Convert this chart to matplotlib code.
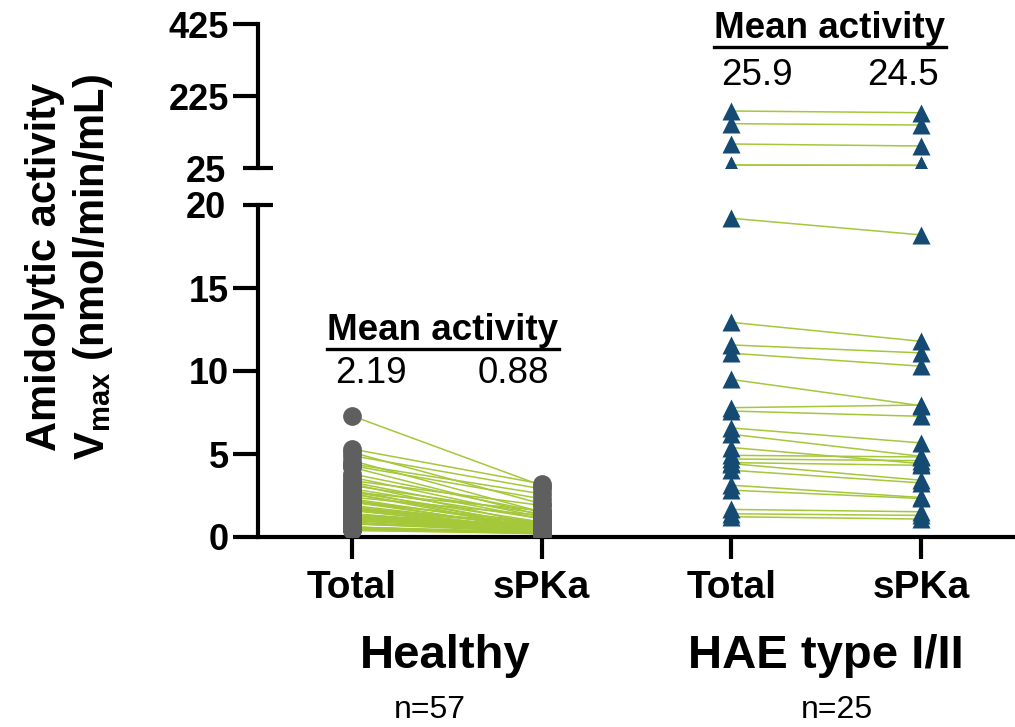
import matplotlib
matplotlib.use('Agg')
import matplotlib.pyplot as plt
from matplotlib.lines import Line2D

plt.rcParams['font.family'] = ['Liberation Sans', 'DejaVu Sans']
plt.rcParams['font.weight'] = 'bold'
plt.rcParams['mathtext.fontset'] = 'custom'
plt.rcParams['mathtext.rm'] = 'Liberation Sans'
plt.rcParams['mathtext.bf'] = 'Liberation Sans:bold'
plt.rcParams['mathtext.default'] = 'bf'

# labels
tick_labels = ['Total', 'sPKa', 'Total', 'sPKa']
groups = ['Healthy', 'HAE type I/II']
group_n = ['n=57', 'n=25']
mean_healthy = ['2.19', '0.88']
mean_hae = ['25.9', '24.5']

# paired values (nmol/min/mL)
healthy_total = [7.3, 5.3, 5.1, 4.9, 4.6, 4.4, 4.2, 4.3, 3.8, 3.6,
                 3.4, 3.3, 3.1, 3.2, 2.9, 2.8, 2.7, 2.6, 2.7, 2.6,
                 2.4, 2.3, 2.2, 2.1, 2.1, 2.2, 1.9, 1.8, 1.8, 1.7,
                 1.6, 1.6, 1.7, 1.6, 1.4, 1.4, 1.3, 1.3, 1.2, 1.2,
                 1.1, 1.1, 1.0, 1.0, 1.0, 1.2, 0.8, 0.8, 0.9, 0.8,
                 0.6, 0.6, 0.5, 0.5, 0.4, 0.4, 0.6]
healthy_spka = [3.1, 3.2, 2.0, 2.9, 1.5, 2.6, 1.3, 2.3, 1.5, 1.2,
                1.9, 1.1, 1.4, 0.7, 1.1, 0.6, 1.6, 0.5, 0.9, 0.7,
                1.3, 0.6, 0.8, 0.5, 0.9, 0.4, 0.6, 0.7, 0.4, 0.5,
                0.9, 0.4, 0.7, 0.5, 0.6, 0.4, 0.7, 0.5, 0.4, 0.6,
                0.3, 0.5, 0.4, 0.3, 0.5, 0.4, 0.3, 0.4, 0.3, 0.4,
                0.2, 0.3, 0.3, 0.2, 0.3, 0.2, 0.2]
hae_total = [183.3, 148.1, 91.7, 33.3, 33.0, 19.2, 12.93, 11.57, 11.07, 9.49,
             7.79, 7.59, 6.57, 6.19, 5.39, 4.92, 4.48, 4.42, 4.02, 3.12,
             2.82, 1.66, 1.22, 4.7, 1.4]
hae_spka = [178.6, 144.4, 86.1, 32.5, 32.3, 18.2, 11.79, 11.09, 10.29, 7.91,
            7.95, 7.27, 5.67, 4.86, 4.42, 4.82, 4.32, 3.42, 3.26, 2.38,
            2.32, 1.52, 1.08, 4.6, 1.3]

line_col = '#a4c83a'
grey = '#5f5f5f'
navy = '#154a72'

W, H = 1015, 727
fig = plt.figure(figsize=(W / 100, H / 100), dpi=100)


def box(l, t, r, b):
    return [l / W, 1 - b / H, (r - l) / W, (b - t) / H]


ax = fig.add_axes(box(258, 205, 1015, 537))
ax_top = fig.add_axes(box(258, 24, 1015, 168))

# lower segment: everything
for t, s in zip(healthy_total, healthy_spka):
    ax.plot([0, 1], [t, s], color=line_col, lw=1.1, zorder=2)
for t, s in zip(hae_total, hae_spka):
    ax.plot([2, 3], [t, s], color=line_col, lw=1.1, zorder=2)
ax.plot([0] * len(healthy_total), healthy_total, 'o', ms=13.5, color=grey, mec='none', zorder=3)
ax.plot([1] * len(healthy_spka), healthy_spka, 'o', ms=13.5, color=grey, mec='none', zorder=3)
ax.plot([2] * len(hae_total), hae_total, '^', ms=13, color=navy, mec='none', zorder=3)
ax.plot([3] * len(hae_spka), hae_spka, '^', ms=13, color=navy, mec='none', zorder=3)

# upper segment: only the high HAE pairs
hi = [(t, s) for t, s in zip(hae_total, hae_spka) if t > 25]
for t, s in hi:
    ax_top.plot([2, 3], [t, s], color=line_col, lw=1.1, zorder=2)
ax_top.plot([2] * len(hi), [p[0] for p in hi], '^', ms=13, color=navy, mec='none', zorder=3)
ax_top.plot([3] * len(hi), [p[1] for p in hi], '^', ms=13, color=navy, mec='none', zorder=3)

for a in (ax, ax_top):
    a.set_xlim(-0.495, 3.495)
    a.spines['right'].set_visible(False)
    a.spines['top'].set_visible(False)
    a.spines['left'].set_linewidth(3)
    a.tick_params(axis='y', which='major', direction='out', length=18, width=3,
                  labelsize=26, pad=3)
    a.tick_params(axis='y', which='minor', direction='inout', length=22, width=3,
                  labelsize=26, pad=12)

ax.spines['bottom'].set_linewidth(3)
ax.set_ylim(0, 20)
ax.set_yticks([0, 5, 10, 15])
ax.set_yticks([20], labels=['20'], minor=True)
ax.set_xticks(range(4), labels=tick_labels)
ax.tick_params(axis='x', direction='out', length=16, width=3, labelsize=28, pad=8)

ax_top.spines['bottom'].set_visible(False)
ax_top.set_ylim(25, 425)
ax_top.set_yticks([225, 425])
ax_top.set_yticks([25], labels=['25'], minor=True)
ax_top.tick_params(axis='x', bottom=False, labelbottom=False)

fig.text(70 / W, 1 - 267 / H, 'Amidolytic activity\nV$_{max}$ (nmol/min/mL)',
         rotation=90, ha='center', va='center', fontsize=30, multialignment='center')

for i, (g, n) in enumerate(zip(groups, group_n)):
    cx = [445, 826][i]
    nx = [430, 837][i]
    fig.text(cx / W, 1 - 668 / H, g, ha='center', va='baseline', fontsize=34)
    fig.text(nx / W, 1 - 725 / H, n, ha='center', va='bottom', fontsize=23,
             fontweight='normal')

m1 = fig.text(443 / W, 1 - 340 / H, 'Mean activity', ha='center', va='baseline', fontsize=26.5)
m2 = fig.text(830 / W, 1 - 38 / H, 'Mean activity', ha='center', va='baseline', fontsize=26.5)
for x, s in zip([371, 513], mean_healthy):
    fig.text(x / W, 1 - 383 / H, s, ha='center', va='baseline', fontsize=26.5, fontweight='normal')
for x, s in zip([757, 903], mean_hae):
    fig.text(x / W, 1 - 85 / H, s, ha='center', va='baseline', fontsize=26.5, fontweight='normal')

fig.canvas.draw()
r = fig.canvas.get_renderer()
for t in (m1, m2):
    bb = t.get_window_extent(r)
    y = (bb.y0 - 1) / fig.bbox.height
    fig.add_artist(Line2D([bb.x0 / fig.bbox.width, bb.x1 / fig.bbox.width], [y, y],
                          transform=fig.transFigure, color='black', lw=2.4))

fig.savefig('out.png', dpi=100)
